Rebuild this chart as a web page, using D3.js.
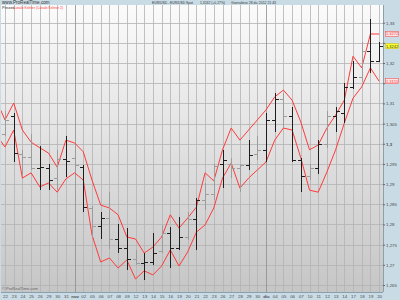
<!DOCTYPE html>
<html>
<head>
<meta charset="utf-8">
<script src="https://cdnjs.cloudflare.com/ajax/libs/d3/7.8.5/d3.min.js"></script>
<style>
  html, body { margin: 0; padding: 0; background: #fff; }
  svg { display: block; font-family: "Liberation Sans", Arial, sans-serif; }
</style>
</head>
<body>
<svg id="chart"></svg>
<script>
// EUR/USD daily bars, 22 oct - 20 dic 2012
const dayLabels = ["22","23","24","25","26","29","30","31","nov","02",
  "05","06","07","08","09","12","13","14","15","16",
  "19","20","21","22","23","26","27","28","29","30",
  "dic","04","05","06","07","10","11","12","13","14",
  "17","18","19","20"];
const monthLabels = ["nov", "dic"];

const opens = [1.3025,1.3070,1.2975,1.2968,1.2940,1.2940,1.2915,1.2962,1.2965,1.2942,
  1.2840,1.2795,1.2815,1.2765,1.2742,1.2714,1.2705,1.2707,1.2735,1.2780,
  1.2742,1.2770,1.2814,1.2860,1.2875,1.2950,1.2950,1.2940,1.2948,1.2975,
  1.2985,1.3060,1.3110,1.3070,1.2960,1.2920,1.2940,1.3000,1.3070,1.3076,
  1.3140,1.3165,1.3230,1.3206];
const highs = [1.3080,1.3076,1.2985,1.3025,1.2995,1.2950,1.2985,1.3020,1.2985,1.2947,
  1.2845,1.2830,1.2880,1.2800,1.2791,1.2736,1.2729,1.2778,1.2798,1.2794,
  1.2818,1.2831,1.2865,1.2903,1.2950,1.2984,1.2965,1.2950,1.3010,1.3020,
  1.3075,1.3125,1.3125,1.3090,1.2965,1.2950,1.3010,1.3080,1.3090,1.3150,
  1.3205,1.3252,1.3310,1.3252];
const lows = [1.3020,1.2955,1.2925,1.2935,1.2885,1.2885,1.2885,1.2918,1.2930,1.2831,
  1.2770,1.2765,1.2740,1.2730,1.2687,1.2700,1.2662,1.2700,1.2729,1.2692,
  1.2737,1.2761,1.2737,1.2836,1.2860,1.2891,1.2915,1.2880,1.2936,1.2960,
  1.2955,1.3030,1.3040,1.2955,1.2880,1.2910,1.2925,1.2990,1.3030,1.3052,
  1.3135,1.3153,1.3175,1.3203];
const closes = [1.3060,1.2977,1.2968,1.2940,1.2942,1.2910,1.2962,1.2958,1.2947,1.2843,
  1.2795,1.2815,1.2765,1.2742,1.2714,1.2705,1.2707,1.2729,1.2780,1.2742,
  1.2770,1.2814,1.2860,1.2875,1.2945,1.2960,1.2940,1.2948,1.2972,1.2985,
  1.3060,1.3110,1.3070,1.2960,1.2920,1.2940,1.3000,1.3070,1.3080,1.3140,
  1.3165,1.3230,1.3206,1.3242];
// bar shade as it appears in the picture: 1 = dark, 0 = light
const barShade = [0,1,0,0,1,1,0,1,0,1, 0,1,0,1,1,0,1,1,0,1,
  1,0,1,0,0,1,0,0,1,0, 1,1,0,1,1,0,1,0,1,1, 1,0,1,1];

// channel lines, first value belongs to the day before the first bar
const upperBand = [1.3108,1.3059,1.3101,1.3034,1.3004,1.2990,1.2977,1.2942,1.3009,1.3002,
  1.2980,1.2910,1.2848,1.2841,1.2824,1.2769,1.2764,1.2729,1.2744,1.2769,
  1.2824,1.2791,1.2816,1.2843,1.2928,1.2908,1.2985,1.3039,1.3009,1.3034,
  1.3059,1.3084,1.3116,1.3133,1.3108,1.3054,1.2985,1.2997,1.3039,1.3071,
  1.3108,1.3217,1.3188,1.3272,1.3272];
const lowerBand = [1.3022,1.2992,1.3034,1.2915,1.2928,1.2893,1.2903,1.2880,1.2913,1.2928,
  1.2910,1.2774,1.2707,1.2717,1.2692,1.2712,1.2665,1.2685,1.2675,1.2697,
  1.2737,1.2697,1.2732,1.2781,1.2799,1.2841,1.2915,1.2952,1.2890,1.2915,
  1.2935,1.2955,1.3009,1.3039,1.3034,1.2965,1.2885,1.2880,1.2930,1.2985,
  1.3051,1.3113,1.3141,1.3188,1.3155];

const priceTicks = [1.265,1.27,1.275,1.28,1.285,1.29,1.295,1.3,1.305,1.31,1.315,1.32,1.325,1.33];

const width = 400, height = 300;
const plotLeft = 1, plotRight = 383, plotTop = 5, plotBottom = 292;
const panelColor = "#c9dce6";
const red = "#ff3a3a";

const svg = d3.select("#chart")
  .attr("width", width)
  .attr("height", height);

const x = d3.scaleLinear().domain([0, dayLabels.length - 1]).range([5, 379.1]);
const y = d3.scaleLinear().domain([1.265, 1.33]).range([285, 22.7]);
const fmt = v => (+v.toFixed(3)).toString().replace(".", ",");
const fmt4 = v => v.toFixed(4).replace(".", ",");

// panels
svg.append("rect").attr("width", width).attr("height", height).attr("fill", panelColor);

const defs = svg.append("defs");
const grad = defs.append("linearGradient").attr("id", "bg").attr("x1", 0).attr("y1", 0).attr("x2", 0).attr("y2", 1);
grad.append("stop").attr("offset", "0%").attr("stop-color", "#fbfbfb");
grad.append("stop").attr("offset", "100%").attr("stop-color", "#c6c6c6");
defs.append("clipPath").attr("id", "plotClip")
  .append("rect")
  .attr("x", plotLeft).attr("y", plotTop)
  .attr("width", plotRight - plotLeft).attr("height", plotBottom - plotTop);

svg.append("rect")
  .attr("x", plotLeft).attr("y", plotTop)
  .attr("width", plotRight - plotLeft).attr("height", plotBottom - plotTop)
  .attr("fill", "url(#bg)");

const plot = svg.append("g").attr("clip-path", "url(#plotClip)");

// grid
plot.selectAll(".hgrid").data(priceTicks).join("line")
  .attr("x1", plotLeft).attr("x2", plotRight)
  .attr("y1", d => Math.round(y(d)) + 0.5).attr("y2", d => Math.round(y(d)) + 0.5)
  .attr("stroke", "#b4b4b4").attr("stroke-width", 1).attr("opacity", 0.8);

plot.selectAll(".vgrid").data(dayLabels).join("line")
  .attr("x1", (d, i) => Math.round(x(i)) + 0.5).attr("x2", (d, i) => Math.round(x(i)) + 0.5)
  .attr("y1", plotTop).attr("y2", plotBottom)
  .attr("stroke", d => monthLabels.includes(d) ? "#8e8e8e" : "#b4b4b4")
  .attr("stroke-width", 1).attr("opacity", 0.8);

// channel lines
const bandLine = d3.line().x((d, i) => x(i - 1)).y(d => y(d));
[upperBand, lowerBand].forEach(band => {
  plot.append("path")
    .attr("d", bandLine(band))
    .attr("fill", "none")
    .attr("stroke", red)
    .attr("stroke-width", 1);
});

// OHLC bars
const bars = plot.selectAll(".bar").data(dayLabels).join("g")
  .attr("stroke", (d, i) => barShade[i] ? "#1e1e1e" : "#9c9c9c")
  .attr("stroke-width", 1)
  .attr("shape-rendering", "crispEdges");
bars.append("line")
  .attr("x1", (d, i) => Math.round(x(i)) + 0.5).attr("x2", (d, i) => Math.round(x(i)) + 0.5)
  .attr("y1", (d, i) => y(highs[i])).attr("y2", (d, i) => y(lows[i]));
bars.append("line")
  .attr("x1", (d, i) => Math.round(x(i)) - 3).attr("x2", (d, i) => Math.round(x(i)))
  .attr("y1", (d, i) => Math.round(y(opens[i])) + 0.5).attr("y2", (d, i) => Math.round(y(opens[i])) + 0.5);
bars.append("line")
  .attr("x1", (d, i) => Math.round(x(i)) + 1).attr("x2", (d, i) => Math.round(x(i)) + 4)
  .attr("y1", (d, i) => Math.round(y(closes[i])) + 0.5).attr("y2", (d, i) => Math.round(y(closes[i])) + 0.5);

// price tags (values shown in the right axis)
const tags = [
  { v: upperBand[upperBand.length - 1], fill: "#fbe3e3", stroke: red, text: red },
  { v: lowerBand[lowerBand.length - 1], fill: "#fbe3e3", stroke: red, text: red },
  { v: closes[closes.length - 1], fill: "#ffff2e", stroke: "#c8b400", text: "#333" }
];

// right price axis, a label under a tag is hidden as in the original
const hiddenTicks = priceTicks.filter(p => tags.some(t => Math.abs(y(p) - y(t.v)) < 4));
const yAxis = svg.append("g")
  .attr("transform", `translate(${plotRight},0)`)
  .call(d3.axisRight(y).tickValues(priceTicks).tickSize(2).tickPadding(1).tickFormat(fmt));
yAxis.select(".domain").attr("stroke", "#8aa0ad").attr("d", `M0.5,${plotTop}V${plotBottom}`);
yAxis.selectAll(".tick line").attr("stroke", "#667");
yAxis.selectAll(".tick text")
  .attr("font-size", 4.4).attr("fill", "#4a4a4a")
  .attr("font-weight", d => d === 1.3 ? "bold" : null)
  .attr("display", d => hiddenTicks.includes(d) ? "none" : null);

// bottom date axis
const xAxis = svg.append("g")
  .attr("transform", `translate(0,${plotBottom})`)
  .call(d3.axisBottom(x).tickValues(d3.range(dayLabels.length)).tickSize(0).tickPadding(2.5)
    .tickFormat(i => dayLabels[i]));
xAxis.select(".domain").attr("stroke", "#8aa0ad").attr("d", `M${plotLeft},0.5H${plotRight}`);
xAxis.selectAll(".tick text")
  .attr("font-size", 4.4).attr("fill", "#4a4a4a")
  .attr("font-weight", (d) => monthLabels.includes(dayLabels[d]) ? "bold" : null);

tags.forEach(t => {
  svg.append("rect")
    .attr("x", plotRight + 2.5).attr("y", y(t.v) - 2.5)
    .attr("width", 13).attr("height", 5)
    .attr("fill", t.fill).attr("stroke", t.stroke).attr("stroke-width", 0.5);
  svg.append("text")
    .attr("x", plotRight + 9).attr("y", y(t.v) + 1.4)
    .attr("text-anchor", "middle").attr("font-size", 4)
    .attr("fill", t.text)
    .text(fmt4(t.v));
});

// title bar
svg.append("text").attr("x", 2).attr("y", 4).attr("font-size", 4.6).attr("fill", "#333")
  .text("www.ProRealTime.com");
svg.append("text").attr("x", 152).attr("y", 4).attr("font-size", 3.7).attr("fill", "#333")
  .attr("textLength", 41).attr("lengthAdjust", "spacingAndGlyphs")
  .text("EUR/USD - EUR/USD Spot");
svg.append("text").attr("x", 200).attr("y", 4).attr("font-size", 3.7).attr("fill", "#333")
  .attr("textLength", 25).attr("lengthAdjust", "spacingAndGlyphs")
  .text("1,3242 (+0,27%)");
svg.append("text").attr("x", 231).attr("y", 4).attr("font-size", 3.7).attr("fill", "#333")
  .attr("textLength", 45).attr("lengthAdjust", "spacingAndGlyphs")
  .text("Giornaliero 28 dic 2012 21:43");

// legend
svg.append("text").attr("x", 2).attr("y", 9.2).attr("font-size", 4).attr("fill", "#333")
  .text("Prezzo");
svg.append("text").attr("x", 13).attr("y", 9.2).attr("font-size", 4).attr("fill", red)
  .attr("textLength", 50).attr("lengthAdjust", "spacingAndGlyphs")
  .text("Canale Keltner (Canale Keltner 2)");

// watermark
svg.append("text").attr("x", 2).attr("y", 290).attr("font-size", 4).attr("fill", "#666")
  .text("© ProRealTime.com");
</script>
</body>
</html>
